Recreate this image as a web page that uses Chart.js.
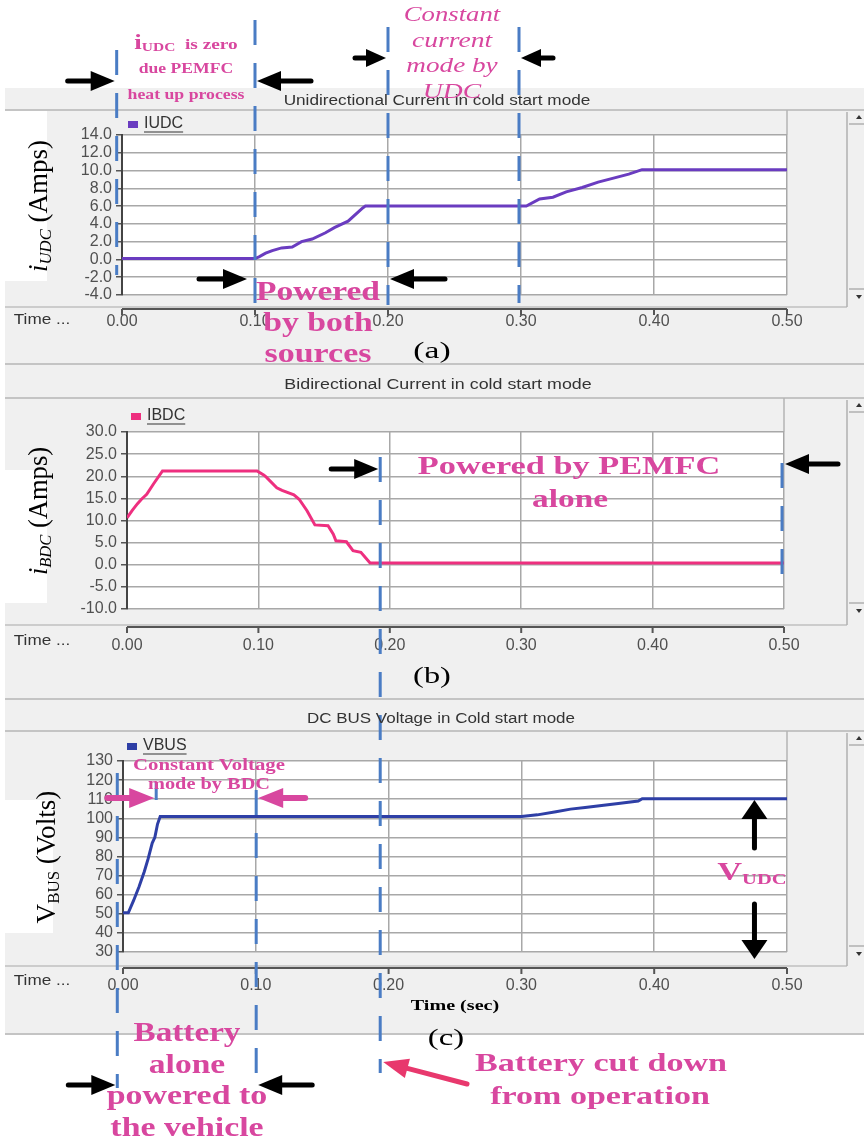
<!DOCTYPE html>
<html>
<head>
<meta charset="utf-8">
<title>Cold start mode</title>
<script src="https://cdn.jsdelivr.net/npm/chart.js@4.4.1/dist/chart.umd.min.js"></script>
<style>
  html, body { margin: 0; padding: 0; background: #fff; }
  #page { position: relative; width: 864px; height: 1142px; overflow: hidden; }
  .panel { position: absolute; left: 5px; width: 859px; background: #f0f0f0; border-bottom: 2px solid #c4c4c4; box-sizing: border-box; }
  .whitebox { position: absolute; background: #fff; }
  canvas { position: absolute; left: 0; }
  .lbl { position: absolute; white-space: nowrap; line-height: 1; z-index: 6; }
  .ui { font-family: "Liberation Sans", Arial, sans-serif; color: #333; }
  .ser { font-family: "Liberation Serif", "Times New Roman", serif; color: #000; }
  .note { font-family: "Liberation Serif", "Times New Roman", serif; font-weight: bold; color: #d8479f; }
  sub { font-size: 0.62em; vertical-align: -0.25em; line-height: 0; }
</style>
</head>
<body>
<div id="page">
  <div class="panel" style="top:88px;height:277px"></div>
  <div class="panel" style="top:365px;height:335px"></div>
  <div class="panel" style="top:700px;height:335px"></div>
  <div class="whitebox" style="left:5px;top:111px;width:42px;height:170px"></div>
  <div class="whitebox" style="left:5px;top:470px;width:42px;height:133px"></div>
  <div class="whitebox" style="left:5px;top:800px;width:48px;height:133px"></div>
  <canvas id="chartA" width="864" height="275" style="top:88px"></canvas>
  <canvas id="chartB" width="864" height="335" style="top:365px"></canvas>
  <canvas id="chartC" width="864" height="333" style="top:700px"></canvas>
  <canvas id="notes" width="864" height="1142" style="top:0;z-index:5"></canvas>
</div>
<script>
// (a) unidirectional converter current, A
const tUDC = [0, 0.100, 0.103, 0.108, 0.113, 0.120, 0.128, 0.135, 0.143, 0.153, 0.160, 0.170, 0.181, 0.183, 0.300, 0.304, 0.314, 0.324, 0.334, 0.346, 0.358, 0.371, 0.381, 0.391, 0.500];
const iUDC = [0.1, 0.1, 0.3, 0.7, 1.0, 1.3, 1.4, 2.0, 2.3, 3.0, 3.6, 4.3, 5.8, 6.0, 6.0, 6.0, 6.8, 7.0, 7.6, 8.1, 8.7, 9.2, 9.6, 10.1, 10.1];

// (b) bidirectional converter current, A
const tBDC = [0, 0.004, 0.008, 0.011, 0.015, 0.020, 0.027, 0.099, 0.104, 0.106, 0.114, 0.118, 0.127, 0.131, 0.137, 0.143, 0.153, 0.157, 0.159, 0.167, 0.172, 0.178, 0.185, 0.500];
const iBDC = [10.6, 12.3, 13.8, 14.8, 15.9, 18.2, 21.2, 21.2, 20.3, 19.8, 17.4, 16.8, 15.8, 14.8, 12.2, 9.0, 8.8, 6.9, 5.4, 5.2, 3.2, 2.8, 0.4, 0.4];

// (c) DC bus voltage, V
const tBUS = [0, 0.004, 0.008, 0.012, 0.016, 0.019, 0.022, 0.024, 0.026, 0.028, 0.300, 0.312, 0.326, 0.337, 0.348, 0.362, 0.373, 0.388, 0.391, 0.500];
const vBUS = [50.5, 50.5, 57, 64, 72, 79, 87, 90, 97, 100.9, 100.9, 101.8, 103.4, 104.8, 105.6, 106.8, 107.7, 109, 110.2, 110.2];

// axis ranges
const xRange = [0, 0.5, 0.1];
const yRangeA = [-4, 14, 2];
const yRangeB = [-10, 30, 5];
const yRangeC = [30, 130, 10];

const BLUE = '#4a7cc4', PINK = '#d8479f', CRIMSON = '#e8386d';

// draws the simulator style frame: white plot, detached time axis, scrollbar, legend
const framePlugin = {
  id: 'frame',
  beforeDraw(chart, args, o) {
    const { ctx, chartArea: a } = chart;
    ctx.save();
    ctx.fillStyle = '#fff';
    ctx.fillRect(a.left, a.top, a.right - a.left, a.bottom - a.top);
    ctx.strokeStyle = '#c4c4c4';
    ctx.lineWidth = 2;
    ctx.beginPath(); ctx.moveTo(5, o.lineY); ctx.lineTo(864, o.lineY); ctx.stroke();
    ctx.strokeStyle = '#b4b4b4';
    ctx.lineWidth = 1.5;
    ctx.beginPath(); ctx.moveTo(a.right, o.lineY); ctx.lineTo(a.right, a.top); ctx.stroke();
    ctx.restore();
  },
  afterDraw(chart, args, o) {
    const { ctx, chartArea: a, scales } = chart;
    const ay = a.bottom + o.gap;
    ctx.save();
    // frame line and time axis
    ctx.strokeStyle = '#c0c0c0'; ctx.lineWidth = 1.5;
    ctx.beginPath(); ctx.moveTo(5, ay - 2); ctx.lineTo(847, ay - 2); ctx.stroke();
    ctx.strokeStyle = '#555'; ctx.lineWidth = 2;
    ctx.beginPath(); ctx.moveTo(a.left, ay); ctx.lineTo(a.right, ay); ctx.stroke();
    scales.x.ticks.forEach(t => {
      const x = scales.x.getPixelForValue(t.value);
      ctx.beginPath(); ctx.moveTo(x, ay); ctx.lineTo(x, ay + 6); ctx.stroke();
    });
    // scrollbar
    ctx.strokeStyle = '#b0b0b0'; ctx.lineWidth = 1.5;
    ctx.beginPath(); ctx.moveTo(847, o.lineY + 2); ctx.lineTo(847, ay - 2); ctx.stroke();
    ctx.beginPath(); ctx.moveTo(849, o.lineY + 14); ctx.lineTo(864, o.lineY + 14); ctx.stroke();
    ctx.beginPath(); ctx.moveTo(849, a.bottom - 6); ctx.lineTo(864, a.bottom - 6); ctx.stroke();
    ctx.fillStyle = '#333';
    ctx.beginPath(); ctx.moveTo(856, o.lineY + 9); ctx.lineTo(862, o.lineY + 9); ctx.lineTo(859, o.lineY + 5); ctx.fill();
    ctx.beginPath(); ctx.moveTo(856, a.bottom); ctx.lineTo(862, a.bottom); ctx.lineTo(859, a.bottom + 4); ctx.fill();
    // legend
    const ds = chart.data.datasets[0];
    const ly = a.top - o.legDy;
    ctx.fillStyle = ds.borderColor;
    ctx.fillRect(a.left + o.legDx, ly - 3, 10, 7);
    ctx.font = '16px "Liberation Sans", Arial, sans-serif';
    ctx.fillStyle = '#333';
    ctx.textBaseline = 'middle';
    const tx = a.left + o.legDx + 16;
    ctx.fillText(ds.label, tx, ly);
    const w = ctx.measureText(ds.label).width;
    ctx.strokeStyle = '#333'; ctx.lineWidth = 1.2;
    ctx.beginPath(); ctx.moveTo(tx, ly + 8); ctx.lineTo(tx + w, ly + 8); ctx.stroke();
    ctx.restore();
  }
};

function makeChart(id, label, color, ts, vs, yr, dec, pad, frame, xPad, xH) {
  const data = ts.map((t, i) => ({ x: t, y: vs[i] }));
  return new Chart(document.getElementById(id).getContext('2d'), {
    type: 'line',
    data: { datasets: [{ label, data, borderColor: color, backgroundColor: color, borderWidth: 3, pointRadius: 0, tension: 0 }] },
    options: {
      responsive: false,
      animation: false,
      devicePixelRatio: 1,
      layout: { padding: pad },
      plugins: { legend: { display: false }, tooltip: { enabled: false }, frame },
      scales: {
        x: {
          type: 'linear', min: xRange[0], max: xRange[1],
          ticks: { stepSize: xRange[2], autoSkip: false, callback: v => v.toFixed(2), font: { size: 16, family: '"Liberation Sans", Arial' }, color: '#505050', padding: xPad, maxRotation: 0 },
          grid: { color: '#a8a8a8', lineWidth: 1.5, drawTicks: false },
          border: { display: false },
          afterFit: s => { s.height = xH; }
        },
        y: {
          min: yr[0], max: yr[1],
          ticks: { stepSize: yr[2], autoSkip: false, callback: v => v.toFixed(dec), font: { size: 16, family: '"Liberation Sans", Arial' }, color: '#505050', padding: 4 },
          grid: { color: '#a8a8a8', lineWidth: 1.5, tickLength: 6, tickColor: '#555' },
          border: { color: '#444', width: 2 },
          afterFit: s => { s.width = 60; }
        }
      }
    },
    plugins: [framePlugin]
  });
}

const chartA = makeChart('chartA', 'IUDC', '#6a3cc0', tUDC, iUDC, yRangeA, 1,
  { left: 62, right: 77, top: 47, bottom: 18 }, { lineY: 22, gap: 14, legDy: 11, legDx: 6 }, 17, 50);
const chartB = makeChart('chartB', 'IBDC', '#ee2f7f', tBDC, iBDC, yRangeB, 1,
  { left: 67, right: 80, top: 67, bottom: 31 }, { lineY: 33, gap: 18, legDy: 16, legDx: 4 }, 27, 60);
const chartC = makeChart('chartC', 'VBUS', '#2e3fa6', tBUS, vBUS, yRangeC, 0,
  { left: 63, right: 77, top: 61, bottom: 21 }, { lineY: 31, gap: 16, legDy: 15, legDx: 4 }, 24, 60);

// ---------- text ----------
const page = document.getElementById('page');
function place(cls, html, cx, cy, w, style, rot) {
  const d = document.createElement('div');
  d.className = 'lbl ' + cls;
  d.innerHTML = html;
  Object.assign(d.style, style || {});
  d.style.left = cx + 'px';
  d.style.top = cy + 'px';
  page.appendChild(d);
  const k = w ? w / d.offsetWidth : 1;
  d.style.transform = 'translate(-50%,-50%)' + (rot ? ' rotate(-90deg)' : '') + ' scaleX(' + k + ')';
}

// panel titles and time labels
place('ui', 'Unidirectional Current in cold start mode', 437, 100, 307, { fontSize: '14px' });
place('ui', 'Bidirectional Current in cold start mode', 438, 384, 307, { fontSize: '14px' });
place('ui', 'DC BUS Voltage in Cold start mode', 441, 718, 268, { fontSize: '14px' });
[318, 639, 979].forEach(y => place('ui', 'Time ...', 42, y, 56, { fontSize: '15px' }));

// axis titles
place('ser', '<i>i<sub>UDC</sub></i> (Amps)', 38, 206, 132, { fontSize: '27px' }, true);
place('ser', '<i>i<sub>BDC</sub></i> (Amps)', 38, 511, 128, { fontSize: '27px' }, true);
place('ser', 'V<sub>BUS</sub> (Volts)', 46, 857, 133, { fontSize: '27px' }, true);
place('ser', 'Time (sec)', 455, 1006, 89, { fontSize: '14px', fontWeight: 'bold' });
place('ser', '(a)', 432, 350, 38, { fontSize: '23px' });
place('ser', '(b)', 432, 675, 38, { fontSize: '23px' });
place('ser', '(c)', 446, 1037, 37, { fontSize: '23px' });

// annotations
place('note', '<span style="font-size:21px">i</span><span style="font-size:12px;vertical-align:-2px">UDC</span>&nbsp; is zero', 186, 42, 103, { fontSize: '15px' });
place('note', 'due PEMFC', 186, 68, 94, { fontSize: '15px' });
place('note', 'heat up process', 186, 94, 117, { fontSize: '15px' });
['Constant', 'current', 'mode by', 'UDC'].forEach((s, i) =>
  place('note', s, 452, 14 + i * 25.5, [96, 80, 91, 58][i], { fontSize: '20px', fontWeight: 'normal', fontStyle: 'italic' }));
['Powered', 'by both', 'sources'].forEach((s, i) =>
  place('note', s, 318, 291 + i * 31, [124, 110, 107][i], { fontSize: '27px' }));
place('note', 'Powered by PEMFC', 569, 465, 302, { fontSize: '25px' });
place('note', 'alone', 570, 498, 76, { fontSize: '25px' });
place('note', 'Constant Voltage', 209, 765, 152, { fontSize: '16px' });
place('note', 'mode by BDC', 209, 784, 122, { fontSize: '16px' });
place('note', '<span style="font-size:25px">V</span><span style="font-size:15px;vertical-align:-4px">UDC</span>', 752, 873, 70, {});
['Battery', 'alone', 'powered to', 'the vehicle'].forEach((s, i) =>
  place('note', s, 187, 1032 + i * 31.7, [107, 77, 161, 153][i], { fontSize: '27px' }));
place('note', 'Battery cut down', 601, 1063, 252, { fontSize: '26px' });
place('note', 'from operation', 600, 1096, 220, { fontSize: '26px' });

// ---------- arrows and dashed markers ----------
const ov = document.getElementById('notes').getContext('2d');
const xa = t => chartA.scales.x.getPixelForValue(t);
const xb = t => chartB.scales.x.getPixelForValue(t);
const xc = t => chartC.scales.x.getPixelForValue(t);

function dashV(x, y1, y2) {
  ov.save();
  ov.strokeStyle = BLUE; ov.lineWidth = 3; ov.setLineDash([25, 18]);
  ov.beginPath(); ov.moveTo(x, y1); ov.lineTo(x, y2); ov.stroke();
  ov.restore();
}
function arrow(x1, y1, x2, y2, color, head, half, w) {
  head = head || 24; half = half || 10; w = w || 5;
  const ang = Math.atan2(y2 - y1, x2 - x1);
  const bx = x2 - head * Math.cos(ang), by = y2 - head * Math.sin(ang);
  ov.save();
  ov.strokeStyle = color; ov.fillStyle = color; ov.lineWidth = w; ov.lineCap = 'round';
  ov.beginPath(); ov.moveTo(x1, y1); ov.lineTo(bx, by); ov.stroke();
  ov.beginPath(); ov.moveTo(x2, y2);
  ov.lineTo(bx + half * Math.sin(ang), by - half * Math.cos(ang));
  ov.lineTo(bx - half * Math.sin(ang), by + half * Math.cos(ang));
  ov.closePath(); ov.fill();
  ov.restore();
}

// panel (a)
const L1 = xa(-0.004), L2 = xa(0.1), L3 = xa(0.2), L4 = xa(0.2985);
dashV(L1, 50, 275); dashV(L2, 20, 305); dashV(L3, 27, 305); dashV(L4, 27, 303);
arrow(L1 - 49, 81, L1 - 2, 81, '#000');
arrow(L2 + 56, 81, L2 + 2, 81, '#000');
arrow(L3 - 33, 58, L3 - 2, 58, '#000', 20, 9);
arrow(L4 + 34, 58, L4 + 2, 58, '#000', 20, 9);
arrow(L2 - 56, 279, L2 - 8, 279, '#000');
arrow(L3 + 57, 279, L3 + 2, 279, '#000');

// panel (b), battery cut line runs into (c)
const M1 = xb(0.1927), M2 = xb(0.4985);
dashV(M1, 457, 1073); dashV(M2, 463, 578);
arrow(M1 - 49, 469, M1 - 2, 469, '#000');
arrow(M2 + 56, 464, M2 + 3, 464, '#000');

// panel (c)
const N1 = xc(-0.0043), N2 = xc(0.1003), N3 = xc(0.025), NV = xc(0.4755);
dashV(N1, 773, 1088); dashV(N2, 790, 1093); dashV(N3, 782, 800);
arrow(N1 - 10, 798, N3 - 2, 798, PINK, 25, 10, 6);
arrow(N2 + 49, 798, N2 + 2, 798, PINK, 25, 10, 6);
arrow(NV, 848, NV, 800, '#000', 19, 13, 5);
arrow(NV, 904, NV, 959, '#000', 19, 13, 5);
arrow(N1 - 49, 1085, N1 - 2, 1085, '#000');
arrow(N2 + 56, 1085, N2 + 2, 1085, '#000');
arrow(467, 1084, M1 + 3, 1062, CRIMSON, 25, 10, 5);
</script>
</body>
</html>
